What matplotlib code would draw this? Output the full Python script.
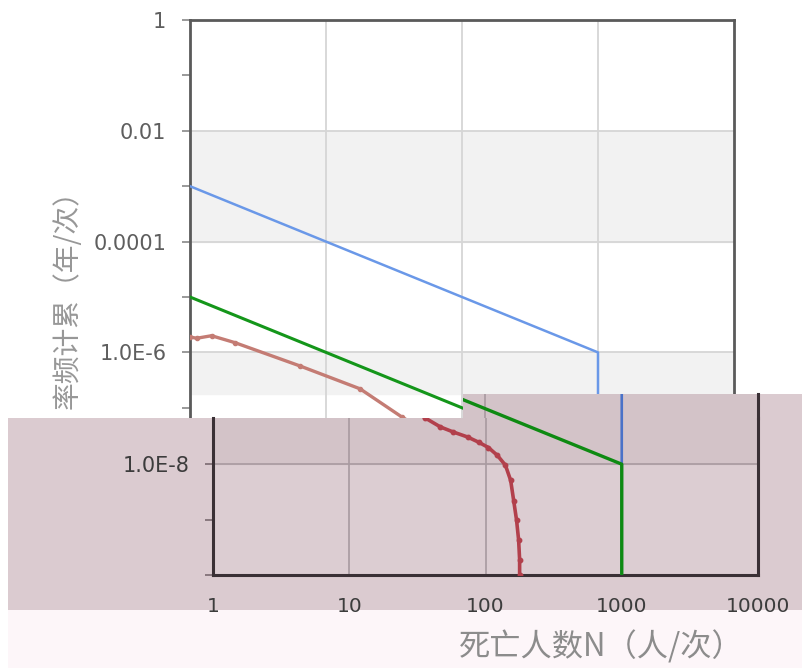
import matplotlib
matplotlib.use('Agg')
import matplotlib.pyplot as plt
from matplotlib.patches import Rectangle

# F-N curve data (deaths N, cumulative frequency F)
fn_n = [1, 1.12, 1.44, 2.14, 6.43, 17.8, 36.2, 46.7, 58.2, 73.8, 88.9, 105,
        122, 140, 153, 161, 169, 175, 178, 178]
fn_f = [1.9e-6, 1.8e-6, 2.0e-6, 1.5e-6, 5.7e-7, 2.2e-7, 6.8e-8, 4.7e-8, 3.8e-8,
        3.1e-8, 2.5e-8, 2.0e-8, 1.45e-8, 9.6e-9, 5.1e-9, 2.2e-9, 9.8e-10,
        4.3e-10, 1.9e-10, 1.0e-10]

# acceptable / negligible criterion lines
upper_n = [1, 1000, 1000]
upper_f = [1e-3, 1e-6, 1e-10]
lower_n = [1, 1000, 1000]
lower_f = [1e-5, 1e-8, 1e-10]

y_ticks = [1, 1e-1, 1e-2, 1e-3, 1e-4, 1e-5, 1e-6, 1e-7, 1e-8, 1e-9, 1e-10]
y_labels = ['1', '', '0.01', '', '0.0001', '', '1.0E-6', '', '1.0E-8', '', '']
x_ticks = [1, 10, 100, 1000, 10000]
x_labels = ['1', '10', '100', '1000', '10000']

ylabel = '率频计累（年/次）'
xlabel = '死亡人数N（人/次）'

W, H = 802, 668
DEC = 55.4  # px per decade, vertical
CJK = ['Noto Sans CJK SC', 'DejaVu Sans']


def box(l, t, r, b):
    return [l / W, 1 - b / H, (r - l) / W, (b - t) / H]


fig = plt.figure(figsize=(W / 100, H / 100), dpi=100)
fig.patch.set_facecolor('white')

# ---- original chart (top) ----
cut_f = 10 ** (-(394 - 20) / DEC)
ax1 = fig.add_axes(box(190, 20, 734, 574))
ax1.set_xscale('log')
ax1.set_yscale('log')
ax1.set_xlim(1, 10000)
ax1.set_ylim(1e-10, 1)
ax1.axhspan(1e-4, 1e-2, color='#f2f2f2', zorder=0)
ax1.axhspan(cut_f, 1e-6, color='#f2f2f2', zorder=0)
for v in [10, 100, 1000]:
    ax1.axvline(v, color='#d6d6d6', lw=1.3, zorder=1)
for v in [1e-2, 1e-4, 1e-6, 1e-8]:
    ax1.axhline(v, color='#d6d6d6', lw=1.3, zorder=1)
ax1.plot(upper_n, upper_f, color='#6a98e8', lw=1.8, zorder=3)
ax1.plot(lower_n, lower_f, color='#14961a', lw=2.2, zorder=3)
ax1.plot(fn_n, fn_f, color='#c47c74', lw=2.4, marker='o', ms=3, zorder=4)
ax1.set_yticks(y_ticks)
# labels hidden under the tinted copy are left out
ax1.set_yticklabels([lab if t > cut_f else '' for t, lab in zip(y_ticks, y_labels)])
ax1.minorticks_off()
ax1.set_xticks([])
ax1.tick_params(axis='y', length=6, width=1.2, color='#888888', pad=11,
                labelsize=15, labelcolor='#5e5e5e')
for s in ['left', 'top', 'right']:
    ax1.spines[s].set_color('#5a5a5a')
    ax1.spines[s].set_linewidth(2)
ax1.spines['bottom'].set_visible(False)

fig.text(68 / W, 1 - 176 / H, ylabel, rotation=90, ha='center', va='top',
         fontsize=20, color='#979797', family=CJK, zorder=0.5)

# ---- shifted, tinted copy (bottom) ----
mauve = '#dbcbd0'
for l, t, r, b, c in [(8, 418, 802, 610, mauve), (463, 394, 802, 418, mauve),
                      (8, 610, 802, 668, '#fdf6f9')]:
    fig.add_artist(Rectangle((l / W, 1 - b / H), (r - l) / W, (b - t) / H,
                             transform=fig.transFigure, facecolor=c,
                             edgecolor='none', zorder=1))


def draw_lower(ax):
    ax.set_xscale('log')
    ax.set_yscale('log')
    ax.set_facecolor('#dccdd2')
    ax.axhspan(1e-8, 1e-6, color='#d3c3c8', zorder=0)
    for v in [10, 100, 1000]:
        ax.axvline(v, color='#a89aa0', lw=1.2, zorder=1)
    ax.axhline(1e-8, color='#a89aa0', lw=1.2, zorder=1)
    ax.plot(upper_n, upper_f, color='#4a72c8', lw=1.9, zorder=3)
    ax.plot(lower_n, lower_f, color='#0e8a12', lw=2.4, zorder=3)
    ax.plot(fn_n, fn_f, color='#b2404c', lw=2.6, marker='o', ms=3.2, zorder=4)
    ax.minorticks_off()
    for s in ax.spines.values():
        s.set_color('#3a3035')
        s.set_linewidth(2.2)


bottom_f = 1e-10
top2_f = bottom_f * 10 ** ((575 - 418) / DEC)
ax2 = fig.add_axes(box(213, 418, 758, 575))
draw_lower(ax2)
ax2.set_xlim(1, 10000)
ax2.spines['top'].set_visible(False)
ax2.set_yticks(y_ticks)
ax2.set_yticklabels(y_labels)
ax2.set_ylim(bottom_f, top2_f)
ax2.set_xticks(x_ticks)
ax2.set_xticklabels(x_labels)
ax2.tick_params(axis='y', length=6, width=1.2, color='#7a6a70', pad=11,
                labelsize=15, labelcolor='#3c3c3c')
ax2.tick_params(axis='x', length=0, pad=16, labelsize=14.5,
                labelcolor='#3c3c3c')
ax2.set_zorder(2)

ax3 = fig.add_axes(box(463, 394, 758, 418))
draw_lower(ax3)
ax3.set_facecolor('#d3c3c8')
ax3.set_xlim(10 ** ((463 - 213) / ((758 - 213) / 4)), 10000)
ax3.set_ylim(top2_f, bottom_f * 10 ** ((575 - 394) / DEC))
for s in ['left', 'top', 'bottom']:
    ax3.spines[s].set_visible(False)
ax3.set_xticks([])
ax3.set_yticks([])
ax3.set_zorder(2)

fig.text(601 / W, 1 - 647 / H, xlabel, ha='center', va='center', fontsize=22.5,
         color='#8c8c8c', family=CJK, zorder=3)

fig.savefig('out.png', dpi=100)
